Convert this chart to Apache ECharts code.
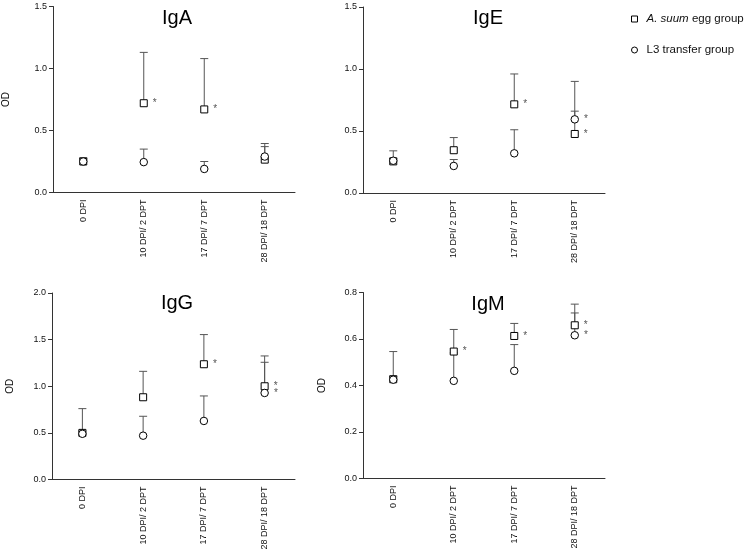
<!DOCTYPE html>
<html>
<head>
<meta charset="utf-8">
<script src="https://cdn.jsdelivr.net/npm/echarts@6/dist/echarts.min.js"></script>
<style>
html,body{margin:0;padding:0;background:#fff;}
#c{width:745px;height:553px;}
</style>
</head>
<body>
<div id="c"></div>
<script>
// ---- data ----
const categories = ['0 DPI', '10 DPI/ 2 DPT', '17 DPI/ 7 DPT', '28 DPI/ 18 DPT'];

const igaEgg   = [0.25, 0.72, 0.67, 0.265];
const igaEggUp = [0.28, 1.13, 1.08, 0.37];
const igaL3    = [0.25, 0.245, 0.19, 0.29];
const igaL3Up  = [0.27, 0.35, 0.25, 0.395];
const igaEggSig = [0, 1, 1, 0];
const igaL3Sig  = [0, 0, 0, 0];

const igeEgg   = [0.255, 0.345, 0.715, 0.476];
const igeEggUp = [0.34, 0.447, 0.96, 0.66];
const igeL3    = [0.26, 0.218, 0.32, 0.594];
const igeL3Up  = [0.28, 0.27, 0.51, 0.90];
const igeEggSig = [0, 0, 1, 1];
const igeL3Sig  = [0, 0, 0, 1];

const iggEgg   = [0.50, 0.882, 1.236, 1.0];
const iggEggUp = [0.76, 1.16, 1.554, 1.325];
const iggL3    = [0.49, 0.47, 0.628, 0.928];
const iggL3Up  = [0.52, 0.678, 0.896, 1.257];
const iggEggSig = [0, 0, 1, 1];
const iggL3Sig  = [0, 0, 0, 1];

const igmEgg   = [0.427, 0.546, 0.613, 0.659];
const igmEggUp = [0.546, 0.641, 0.667, 0.75];
const igmL3    = [0.425, 0.42, 0.463, 0.616];
const igmL3Up  = [0.44, 0.54, 0.576, 0.712];
const igmEggSig = [0, 1, 1, 1];
const igmL3Sig  = [0, 0, 0, 1];

const panelTitles = ['IgA', 'IgE', 'IgG', 'IgM'];
const yMax = [1.5, 1.5, 2.0, 0.8];
const yStep = [0.5, 0.5, 0.5, 0.2];
const EGG = 'A. suum egg group';
const L3 = 'L3 transfer group';

// ---- layout ----
const FONT = 'Liberation Sans, Arial, sans-serif';
const grids = [
  {left: 52, top: 6.5, width: 243, height: 186},
  {left: 363, top: 7, width: 242, height: 186},
  {left: 52, top: 293, width: 243, height: 186.5},
  {left: 363, top: 292.5, width: 242, height: 186}
];
const titlePos = [[172, 3], [483, 3], [172, 288], [483, 289]];
const odGap = [42, null, 37, 36];

const panels = [
  [igaEgg, igaEggUp, igaL3, igaL3Up, igaEggSig, igaL3Sig],
  [igeEgg, igeEggUp, igeL3, igeL3Up, igeEggSig, igeL3Sig],
  [iggEgg, iggEggUp, iggL3, iggL3Up, iggEggSig, iggL3Sig],
  [igmEgg, igmEggUp, igmL3, igmL3Up, igmEggSig, igmL3Sig]
];

const xAxes = [], yAxes = [], series = [], titles = [];
panels.forEach((p, k) => {
  const [egg, eggUp, l3, l3Up, eggSig, l3Sig] = p;
  titles.push({
    text: panelTitles[k], left: titlePos[k][0], top: titlePos[k][1], textAlign: 'center',
    textStyle: {fontFamily: FONT, fontSize: 20, fontWeight: 'normal', color: '#000'}
  });
  xAxes.push({
    type: 'category', gridIndex: k, data: categories, boundaryGap: true,
    axisLine: {lineStyle: {color: '#333', width: 1}},
    axisTick: {alignWithLabel: true, length: 4, lineStyle: {color: '#333'}},
    axisLabel: {rotate: 90, interval: 0, fontSize: 9, margin: 7, color: '#111', fontFamily: FONT},
    splitLine: {show: false}
  });
  yAxes.push({
    type: 'value', gridIndex: k, min: 0, max: yMax[k], interval: yStep[k],
    name: odGap[k] ? 'OD' : '', nameLocation: 'middle', nameGap: odGap[k] || 0,
    nameTextStyle: {fontFamily: FONT, fontSize: 10, color: '#111'},
    axisLine: {show: true, lineStyle: {color: '#333', width: 1}},
    axisTick: {show: true, length: 4, lineStyle: {color: '#333'}},
    axisLabel: {fontSize: 9, margin: 6, color: '#111', fontFamily: FONT,
      formatter: v => v.toFixed(1)},
    splitLine: {show: false}
  });
  const errData = egg.map((v, i) => [i, v, eggUp[i]]).concat(l3.map((v, i) => [i, v, l3Up[i]]));
  series.push({
    type: 'custom', xAxisIndex: k, yAxisIndex: k, silent: true, z: 1,
    encode: {x: 0, y: [1, 2]},
    data: errData,
    renderItem: (params, api) => {
      const x = api.value(0), m = api.value(1), u = api.value(2);
      const p0 = api.coord([x, m]);
      const p1 = api.coord([x, u]);
      const hw = 4;
      return {
        type: 'group',
        children: [
          {type: 'line', shape: {x1: p0[0], y1: p0[1], x2: p1[0], y2: p1[1]},
            style: {stroke: '#555', lineWidth: 1}},
          {type: 'line', shape: {x1: p1[0] - hw, y1: p1[1], x2: p1[0] + hw, y2: p1[1]},
            style: {stroke: '#555', lineWidth: 1}}
        ]
      };
    }
  });
  const mk = (vals, sig) => vals.map((v, i) => ({
    value: [i, v],
    label: {show: !!sig[i]}
  }));
  const lbl = {position: 'right', distance: 5, formatter: '*', fontSize: 10, color: '#555', fontFamily: FONT};
  series.push({
    name: EGG, type: 'scatter', xAxisIndex: k, yAxisIndex: k, z: 3,
    symbol: 'rect', symbolSize: 7,
    itemStyle: {color: '#fff', borderColor: '#000', borderWidth: 1, opacity: 1},
    label: lbl,
    data: mk(egg, eggSig)
  });
  series.push({
    name: L3, type: 'scatter', xAxisIndex: k, yAxisIndex: k, z: 4,
    symbol: 'circle', symbolSize: 7.5,
    itemStyle: {color: '#fff', borderColor: '#000', borderWidth: 1, opacity: 1},
    label: lbl,
    data: mk(l3, l3Sig)
  });
});

const chart = echarts.init(document.getElementById('c'), null, {renderer: 'canvas'});
chart.setOption({
  animation: false,
  backgroundColor: '#fff',
  title: titles,
  grid: grids,
  xAxis: xAxes,
  yAxis: yAxes,
  legend: {
    orient: 'vertical', left: 626, top: 8, itemGap: 19,
    itemWidth: 6, itemHeight: 6,
    data: [{name: EGG, icon: 'rect'}, {name: L3, icon: 'circle'}],
    formatter: n => n === EGG ? '{i|A. suum} egg group' : n,
    textStyle: {fontFamily: FONT, fontSize: 11.5, color: '#111', padding: [0, 0, 0, 4],
      rich: {i: {fontStyle: 'italic', fontFamily: FONT, fontSize: 11.5, color: '#111'}}},
    itemStyle: {color: '#fff', borderColor: '#000', borderWidth: 1},
    selectedMode: false
  },
  series: series
});
</script>
</body>
</html>
